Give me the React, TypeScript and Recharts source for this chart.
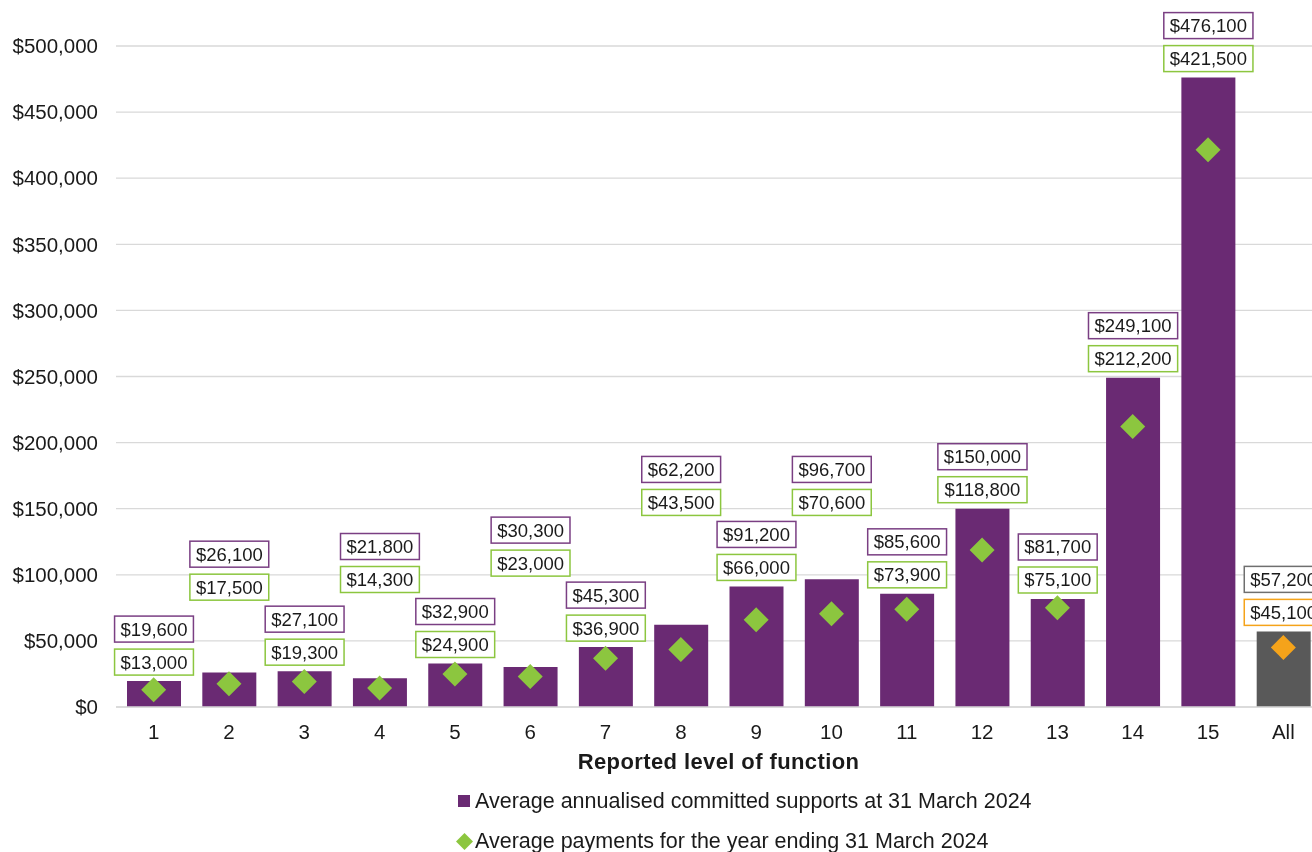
import { Bar, CartesianGrid, Cell, ComposedChart, Label, LabelList, Legend, Line, XAxis, YAxis } from 'recharts';

const LEVELS = ['1', '2', '3', '4', '5', '6', '7', '8', '9', '10', '11', '12', '13', '14', '15', 'All'];
const COMMITTED = [19600, 26100, 27100, 21800, 32900, 30300, 45300, 62200, 91200, 96700, 85600, 150000, 81700, 249100, 476100, 57200];
const PAYMENTS = [13000, 17500, 19300, 14300, 24900, 23000, 36900, 43500, 66000, 70600, 73900, 118800, 75100, 212200, 421500, 45100];
const Y_TICKS = [0, 50000, 100000, 150000, 200000, 250000, 300000, 350000, 400000, 450000, 500000];

const PURPLE = '#6A2A73';
const GREEN = '#8CC63F';
const GREY = '#595959';
const ORANGE = '#F5A31A';
const FONT = '"Liberation Sans", Arial, sans-serif';

const data = LEVELS.map((level, i) => ({ level, committed: COMMITTED[i], payments: PAYMENTS[i] }));

const isAll = (i: number) => LEVELS[i] === 'All';
const money = (v: number) => `$${v.toLocaleString('en-US')}`;

// label box geometry
const BOX_H = 26;
const BOX_GAP = 7;
const BAR_GAP = 6;
const STACK_H = BOX_H * 2 + BOX_GAP;
const LABEL_FS = 18.5;

const textWidth = (s: string) =>
  s.split('').reduce((w, ch) => w + (ch === ',' ? 0.278 : 0.556), 0) * LABEL_FS;

const Box = ({ cx, cy, text, stroke }: { cx: number; cy: number; text: string; stroke: string }) => {
  const w = textWidth(text) + 12;
  return (
    <g>
      <rect x={cx - w / 2} y={cy - BOX_H / 2} width={w} height={BOX_H} fill="#fff" stroke={stroke} strokeWidth={1.5} />
      <text x={cx} y={cy} textAnchor="middle" dominantBaseline="central" fontSize={LABEL_FS} fontFamily={FONT} fill="#1a1a1a">
        {text}
      </text>
    </g>
  );
};

// Both value boxes sit above each bar; every second column is lifted clear of its neighbours' boxes.
const renderLabels = (props: any) => {
  const { x, y, width, height, index } = props;
  const base = y + height;
  const perUnit = height / COMMITTED[index];
  const barTop = (i: number) => base - COMMITTED[i] * perUnit;
  let bottom = barTop(index) - BAR_GAP;
  if (index % 2 === 1) {
    const tops = [index - 1, index + 1]
      .filter((n) => n >= 0 && n < COMMITTED.length)
      .filter((n) => {
        const nb = barTop(n) - BAR_GAP;
        return nb > bottom - STACK_H && nb - STACK_H < bottom;
      })
      .map((n) => barTop(n) - BAR_GAP - STACK_H);
    if (tops.length) bottom = Math.min(...tops) - 6;
  }
  const cx = x + width / 2;
  const greenY = bottom - BOX_H / 2;
  const purpleY = greenY - BOX_H - BOX_GAP;
  return (
    <g key={`lbl-${index}`}>
      <Box cx={cx} cy={purpleY} text={money(COMMITTED[index])} stroke={isAll(index) ? '#6f6f6f' : '#7a3f83'} />
      <Box cx={cx} cy={greenY} text={money(PAYMENTS[index])} stroke={isAll(index) ? ORANGE : GREEN} />
    </g>
  );
};

const renderDiamond = (props: any) => {
  const { cx, cy, index } = props;
  const r = 12.5;
  return (
    <polygon
      key={`dia-${index}`}
      points={`${cx},${cy - r} ${cx + r},${cy} ${cx},${cy + r} ${cx - r},${cy}`}
      fill={isAll(index) ? ORANGE : GREEN}
    />
  );
};

const renderLegend = () => (
  <div style={{ fontFamily: FONT, fontSize: 21.5, color: '#1a1a1a', paddingTop: 13 }}>
    <div style={{ height: 40, display: 'flex', alignItems: 'center' }}>
      <span style={{ display: 'inline-block', width: 12, height: 12, background: PURPLE, marginLeft: 2, marginRight: 5 }} />
      Average annualised committed supports at 31 March 2024
    </div>
    <div style={{ height: 40, display: 'flex', alignItems: 'center' }}>
      <svg width={17} height={17} style={{ marginRight: 2 }}>
        <polygon points="8.5,0 17,8.5 8.5,17 0,8.5" fill={GREEN} />
      </svg>
      Average payments for the year ending 31 March 2024
    </div>
  </div>
);

export default function App() {
  return (
    <div style={{ position: 'fixed', left: 8, top: 8, width: 1304, height: 844, overflow: 'hidden' }}>
      <ComposedChart width={1320} height={844} data={data} margin={{ top: 38, right: 7, bottom: 0, left: 0 }}>
        <CartesianGrid vertical={false} stroke="#d9d9d9" strokeWidth={1.3} />
        <XAxis
          dataKey="level"
          height={61}
          tickLine={false}
          axisLine={{ stroke: '#d9d9d9', strokeWidth: 1.3 }}
          tickSize={0}
          tickMargin={17}
          tick={{ fill: '#1a1a1a', fontSize: 20.5, fontFamily: FONT }}
        >
          <Label
            value="Reported level of function"
            position="insideBottom"
            offset={-1}
            style={{ fontSize: 22, fontWeight: 'bold', fontFamily: FONT, fill: '#1a1a1a', letterSpacing: 0.4 }}
          />
        </XAxis>
        <YAxis
          width={108}
          domain={[0, 500000]}
          ticks={Y_TICKS}
          tickFormatter={money}
          tickLine={false}
          axisLine={false}
          tickSize={0}
          tickMargin={18}
          tick={{ fill: '#1a1a1a', fontSize: 20.5, fontFamily: FONT }}
        />
        <Legend verticalAlign="bottom" content={renderLegend} wrapperStyle={{ left: 448, width: 'auto', height: 84 }} />
        <Bar dataKey="committed" barSize={54} isAnimationActive={false} legendType="square">
          {data.map((d, i) => (
            <Cell key={d.level} fill={isAll(i) ? GREY : PURPLE} />
          ))}
          <LabelList dataKey="committed" content={renderLabels} />
        </Bar>
        <Line
          dataKey="payments"
          stroke="none"
          dot={renderDiamond}
          activeDot={false}
          isAnimationActive={false}
        />
      </ComposedChart>
    </div>
  );
}
